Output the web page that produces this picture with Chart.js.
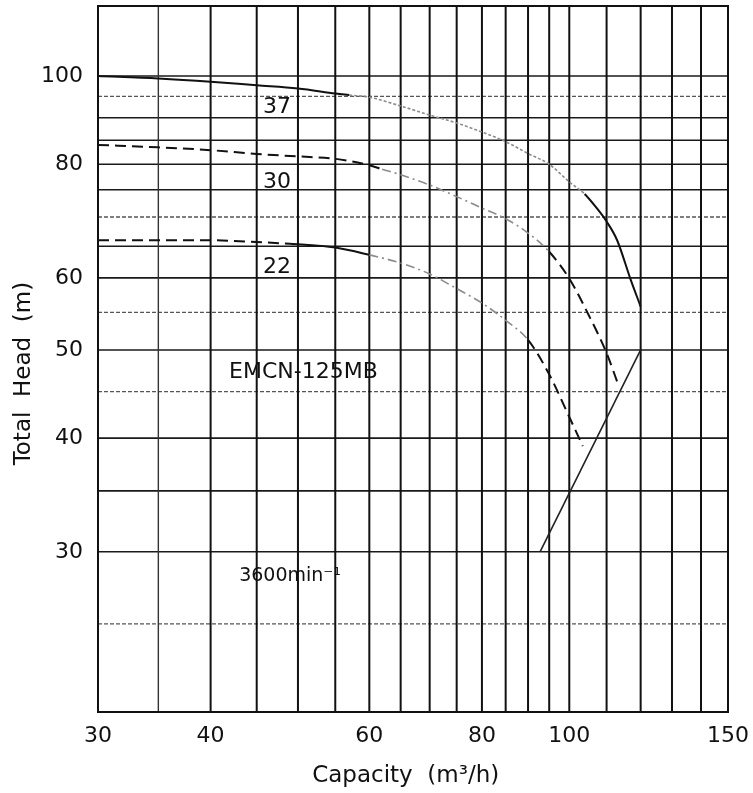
<!DOCTYPE html>
<html>
<head>
<meta charset="utf-8">
<script src="https://cdn.jsdelivr.net/npm/chart.js@4.4.1/dist/chart.umd.min.js"></script>
<style>
  html, body { margin: 0; padding: 0; background: #fff; }
  canvas { display: block; }
</style>
</head>
<body>
<canvas id="pump" width="753" height="793"></canvas>
<script>
// EMCN-125MB performance curves at 3600 min⁻¹, capacity vs total head on log–log paper.

// Motor ratings (kW) labelling each head curve
const motorKW = ['37', '30', '22'];
const modelName = 'EMCN-125MB';
const speedText = '3600min⁻¹';

// 37 kW curve
const q37 = [30, 35, 40, 45, 50, 55, 57, 60, 65, 70, 75, 80, 85, 90, 95, 100, 104, 107, 110, 113, 117, 120];
const h37 = [100, 99.4, 98.6, 97.7, 96.9, 95.7, 95.3, 94.8, 92.7, 90.6, 88.8, 86.8, 84.7, 82.2, 80.0, 76.5, 74.2, 71.8, 69.2, 66.0, 59.7, 55.8];

// 30 kW curve
const q30 = [30, 35, 40, 45, 50, 55, 60, 62, 65, 70, 75, 80, 85, 90, 95, 100, 105, 110, 113.5];
const h30 = [84.0, 83.5, 82.9, 82.1, 81.6, 81.1, 79.8, 79.0, 77.9, 75.9, 73.7, 71.6, 69.7, 67.2, 64.1, 59.9, 54.7, 49.6, 45.6];

// 22 kW curve
const q22 = [30, 35, 40, 45, 49, 55, 60, 65, 70, 75, 80, 85, 90, 95, 100, 103.5];
const h22 = [66.0, 66.0, 66.0, 65.7, 65.4, 64.8, 63.6, 62.3, 60.6, 58.4, 56.3, 53.9, 51.3, 47.0, 42.2, 39.2];

// Operating limit line
const qLimit = [92.8, 120];
const hLimit = [30, 50];

// Axis labels and grid rulings
const qTicks = [30, 40, 60, 80, 100, 150];
const hTicks = [30, 40, 50, 60, 80, 100];
const qGrid = [35, 40, 45, 50, 55, 60, 65, 70, 75, 80, 85, 90, 95, 100, 110, 120, 130, 140];
const hGrid = [25, 30, 35, 40, 45, 50, 55, 60, 65, 70, 75, 80, 85, 90, 95, 100];
const hGridDotted = [25, 45, 55, 70, 95];

const toPoints = (q, h) => q.map((x, i) => ({ x, y: h[i] }));

const INK = '#111';
const FAINT = '#8c8c8c';
const SOLID = { color: INK, dash: [], width: 2 };
const DASHED = { color: INK, dash: [11, 6], width: 2 };
const FAINT_DOT = { color: FAINT, dash: [3, 2], width: 1.6 };
const FAINT_DASHDOT = { color: FAINT, dash: [9, 4, 2, 4], width: 1.6 };

// bands: list of [startCapacity, style]; a segment takes the style of its start point
function curve(q, h, bands) {
  const pick = x => {
    let s = bands[0][1];
    for (const [from, st] of bands) if (x >= from - 1e-9) s = st;
    return s;
  };
  return {
    data: toPoints(q, h),
    borderColor: INK,
    borderWidth: 2,
    pointRadius: 0,
    fill: false,
    cubicInterpolationMode: 'monotone',
    segment: {
      borderColor: c => pick(c.p0.parsed.x).color,
      borderDash: c => pick(c.p0.parsed.x).dash,
      borderWidth: c => pick(c.p0.parsed.x).width
    }
  };
}

const FONT = 'DejaVu Sans';

// Ruled paper grid and frame
const paperGrid = {
  id: 'paperGrid',
  beforeDatasetsDraw(chart) {
    const { ctx, chartArea: a, scales: { x, y } } = chart;
    ctx.save();
    hGrid.forEach(v => {
      const py = y.getPixelForValue(v);
      const dotted = hGridDotted.includes(v);
      ctx.strokeStyle = dotted ? '#555' : '#1a1a1a';
      ctx.lineWidth = dotted ? 1.3 : 1.6;
      ctx.setLineDash(dotted ? [4, 2] : []);
      ctx.beginPath();
      ctx.moveTo(a.left, py);
      ctx.lineTo(a.right, py);
      ctx.stroke();
    });
    ctx.setLineDash([]);
    qGrid.forEach(v => {
      const px = x.getPixelForValue(v);
      ctx.strokeStyle = v === 35 ? '#333' : '#111';
      ctx.lineWidth = v === 35 ? 1.4 : 2;
      ctx.beginPath();
      ctx.moveTo(px, a.top);
      ctx.lineTo(px, a.bottom);
      ctx.stroke();
    });
    ctx.strokeStyle = '#111';
    ctx.lineWidth = 2;
    ctx.strokeRect(a.left, a.top, a.right - a.left, a.bottom - a.top);
    ctx.restore();
  }
};

// Text placed in data coordinates
const notes = [
  { text: motorKW[0], q: 47.4, h: 92.3, size: 22 },
  { text: motorKW[1], q: 47.4, h: 76.5, size: 22 },
  { text: motorKW[2], q: 47.4, h: 61.7, size: 22 },
  { text: modelName, q: 50.7, h: 47.2, size: 22 },
  { text: speedText, q: 49.0, h: 28.2, size: 19 }
];
const notesPlugin = {
  id: 'notes',
  afterDatasetsDraw(chart) {
    const { ctx, scales: { x, y } } = chart;
    ctx.save();
    ctx.fillStyle = '#111';
    ctx.textAlign = 'center';
    ctx.textBaseline = 'middle';
    notes.forEach(n => {
      ctx.font = n.size + 'px "' + FONT + '"';
      ctx.fillText(n.text, x.getPixelForValue(n.q), y.getPixelForValue(n.h));
    });
    ctx.restore();
  }
};

new Chart(document.getElementById('pump'), {
  type: 'line',
  data: {
    datasets: [
      curve(q37, h37, [[30, SOLID], [57, FAINT_DOT], [104, SOLID]]),
      curve(q30, h30, [[30, DASHED], [62, FAINT_DASHDOT], [95, DASHED]]),
      curve(q22, h22, [[30, DASHED], [49, SOLID], [60, FAINT_DASHDOT], [90, DASHED]]),
      {
        data: toPoints(qLimit, hLimit),
        borderColor: '#222',
        borderWidth: 1.6,
        pointRadius: 0,
        fill: false
      }
    ]
  },
  options: {
    responsive: false,
    animation: false,
    devicePixelRatio: 1,
    layout: { padding: { left: 0, right: 25, top: 6, bottom: 0 } },
    plugins: { legend: { display: false }, tooltip: { enabled: false } },
    scales: {
      x: {
        type: 'logarithmic',
        min: 30,
        max: 150,
        grid: { display: false, drawTicks: false },
        border: { display: false },
        afterBuildTicks: s => { s.ticks = qTicks.map(v => ({ value: v })); },
        afterFit: s => { s.height = 81; s.paddingLeft = 0; s.paddingRight = 0; },
        ticks: {
          autoSkip: false,
          maxRotation: 0,
          padding: 11,
          color: '#111',
          font: { family: FONT, size: 22 },
          callback: v => String(v)
        },
        title: {
          display: true,
          text: 'Capacity  (m³/h)  ',
          color: '#111',
          font: { family: FONT, size: 23 },
          padding: { top: 0, bottom: 3 }
        }
      },
      y: {
        type: 'logarithmic',
        min: 20,
        max: 119.4,
        grid: { display: false, drawTicks: false },
        border: { display: false },
        afterBuildTicks: s => { s.ticks = hTicks.map(v => ({ value: v })); },
        afterFit: s => { s.width = 98; s.paddingTop = 0; s.paddingBottom = 0; },
        ticks: {
          autoSkip: false,
          padding: 15,
          color: '#111',
          font: { family: FONT, size: 22 },
          callback: v => String(v)
        },
        title: {
          display: true,
          text: 'Total  Head  (m)    ',
          color: '#111',
          font: { family: FONT, size: 23 },
          padding: { top: 10, bottom: 0 }
        }
      }
    }
  },
  plugins: [paperGrid, notesPlugin]
});
</script>
</body>
</html>
